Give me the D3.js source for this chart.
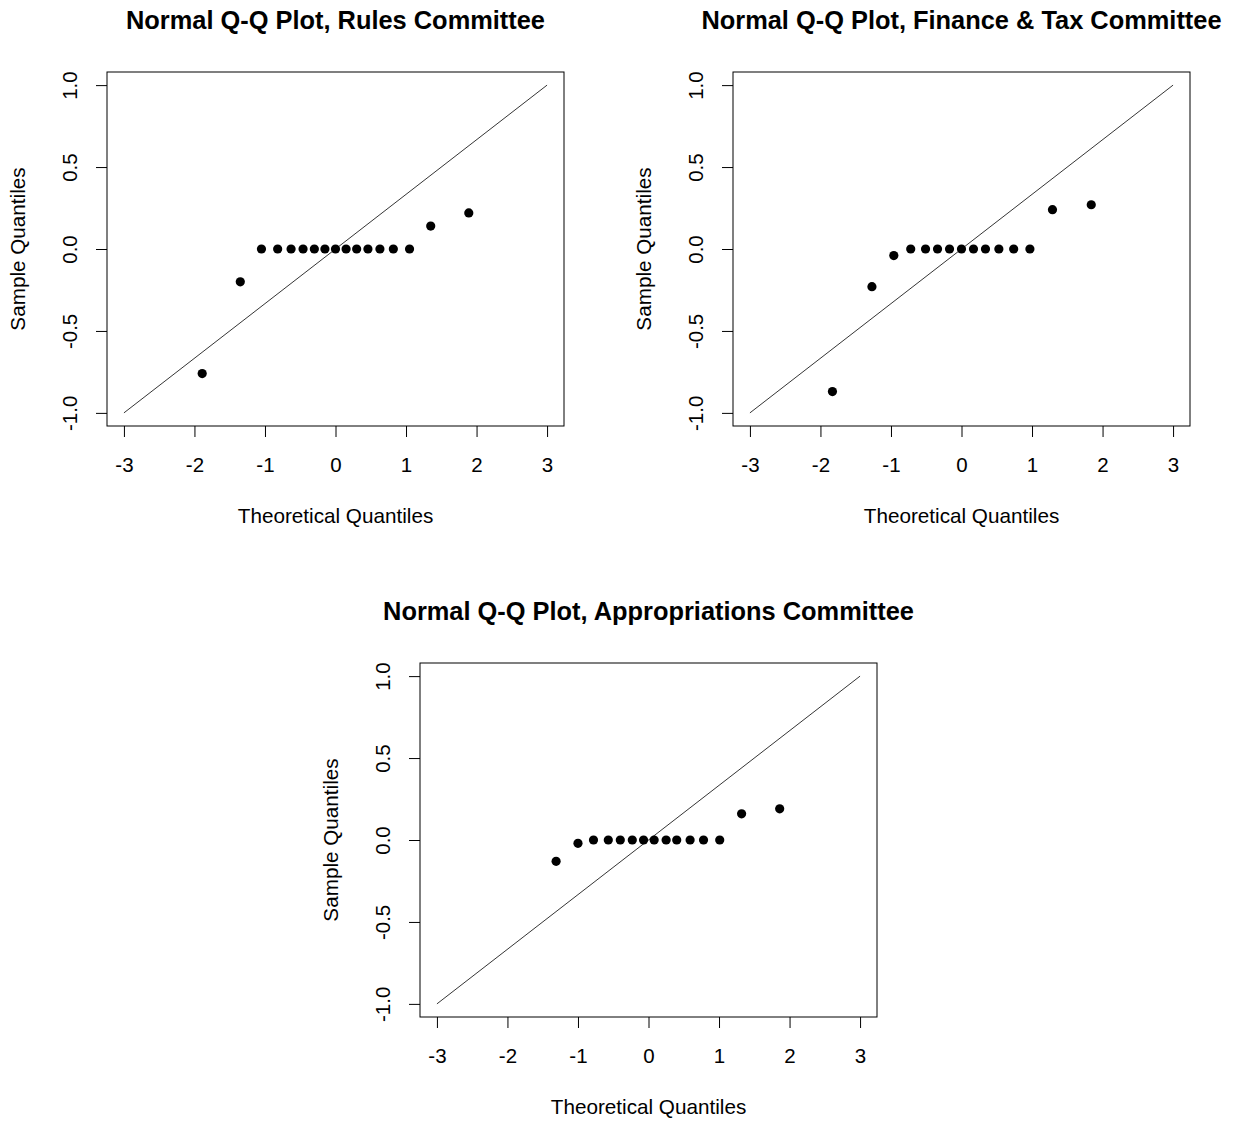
<!DOCTYPE html>
<html>
<head>
<meta charset="utf-8">
<script src="https://cdn.jsdelivr.net/npm/d3@7"></script>
<style>
  html, body { margin: 0; padding: 0; background: #fff; }
  svg { display: block; font-family: 'Liberation Sans', Arial, sans-serif; }
</style>
</head>
<body>
<div id="chart"></div>
<script>
const WIDTH = 1237;
const HEIGHT = 1122;

// tick labels shared by all three panels
const xTicks = [-3, -2, -1, 0, 1, 2, 3];
const yTicks = [-1.0, -0.5, 0.0, 0.5, 1.0];

// reference line end points
const lineX = [-3, 3];
const lineY = [-1, 1];

// Rules Committee
const rulesTheo = [-1.89, -1.35, -1.05, -0.82, -0.63, -0.46, -0.30, -0.15, 0, 0.15, 0.30, 0.46, 0.63, 0.82, 1.05, 1.35, 1.89];
const rulesSample = [-0.76, -0.20, 0, 0, 0, 0, 0, 0, 0, 0, 0, 0, 0, 0, 0, 0.14, 0.22];

// Finance & Tax Committee
const financeTheo = [-1.83, -1.27, -0.96, -0.72, -0.51, -0.34, -0.17, 0, 0.17, 0.34, 0.53, 0.74, 0.97, 1.29, 1.84];
const financeSample = [-0.87, -0.23, -0.04, 0, 0, 0, 0, 0, 0, 0, 0, 0, 0, 0.24, 0.27];

// Appropriations Committee
const approTheo = [-1.31, -1.00, -0.78, -0.57, -0.40, -0.23, -0.07, 0.08, 0.25, 0.40, 0.59, 0.78, 1.01, 1.32, 1.86];
const approSample = [-0.13, -0.02, 0, 0, 0, 0, 0, 0, 0, 0, 0, 0, 0, 0.16, 0.19];

const panels = [
  {title: 'Normal Q-Q Plot, Rules Committee', theo: rulesTheo, sample: rulesSample, left: 107, top: 72},
  {title: 'Normal Q-Q Plot, Finance & Tax Committee', theo: financeTheo, sample: financeSample, left: 733, top: 72},
  {title: 'Normal Q-Q Plot, Appropriations Committee', theo: approTheo, sample: approSample, left: 420, top: 663},
];

const BOX_W = 457;
const BOX_H = 354;
const FONT = 'Liberation Sans, Arial, sans-serif';

// R prints a plain hyphen, not d3's unicode minus
const fmtX = d => String(d);
const fmtY = d => d.toFixed(1);

function translate(x, y) {
  return `translate(${x}, ${y})`;
}

const svg = d3.select('#chart').append('svg')
  .attr('width', WIDTH)
  .attr('height', HEIGHT)
  .attr('viewBox', `0 0 ${WIDTH} ${HEIGHT}`);

svg.append('rect')
  .attr('width', WIDTH)
  .attr('height', HEIGHT)
  .attr('fill', '#fff');

function drawPanel(p) {
  const g = svg.append('g').attr('transform', translate(p.left, p.top));

  // R pads the data range by 4% on each side
  const x = d3.scaleLinear().domain([-3.24, 3.24]).range([0, BOX_W]);
  const y = d3.scaleLinear().domain([-1.08, 1.08]).range([BOX_H, 0]);

  // x axis
  const xAxis = g.append('g')
    .attr('transform', translate(0, BOX_H))
    .call(d3.axisBottom(x).tickValues(xTicks).tickSize(11).tickFormat(fmtX));
  xAxis.select('.domain').remove();
  xAxis.selectAll('.tick line').attr('stroke', '#000');
  xAxis.selectAll('.tick text')
    .attr('y', 46)
    .attr('dy', null)
    .attr('fill', '#000')
    .attr('font-size', 20.5)
    .attr('font-family', FONT);

  // y axis, labels turned like R's las = 0
  const yAxis = g.append('g')
    .call(d3.axisLeft(y).tickValues(yTicks).tickSize(11).tickFormat(fmtY));
  yAxis.select('.domain').remove();
  yAxis.selectAll('.tick line').attr('stroke', '#000');
  yAxis.selectAll('.tick text')
    .attr('x', 0)
    .attr('y', 0)
    .attr('dy', null)
    .attr('text-anchor', 'middle')
    .attr('transform', 'translate(-30, 0) rotate(-90)')
    .attr('fill', '#000')
    .attr('font-size', 20.5)
    .attr('font-family', FONT);

  // frame
  g.append('rect')
    .attr('width', BOX_W)
    .attr('height', BOX_H)
    .attr('fill', 'none')
    .attr('stroke', '#000')
    .attr('stroke-width', 1);

  // diagonal reference line
  g.append('line')
    .attr('x1', x(lineX[0]))
    .attr('y1', y(lineY[0]))
    .attr('x2', x(lineX[1]))
    .attr('y2', y(lineY[1]))
    .attr('stroke', '#000')
    .attr('stroke-width', 0.8);

  // sample points
  g.selectAll('.dot')
    .data(p.theo.map((t, i) => [t, p.sample[i]]))
    .enter().append('circle')
    .attr('class', 'dot')
    .attr('cx', d => x(d[0]))
    .attr('cy', d => y(d[1]))
    .attr('r', 4.6)
    .attr('fill', '#000');

  // titles and axis labels
  g.append('text')
    .attr('x', BOX_W / 2)
    .attr('y', -43)
    .attr('text-anchor', 'middle')
    .attr('font-size', 25.4)
    .attr('font-weight', 'bold')
    .text(p.title);

  g.append('text')
    .attr('x', BOX_W / 2)
    .attr('y', BOX_H + 97)
    .attr('text-anchor', 'middle')
    .attr('font-size', 20.7)
    .text('Theoretical Quantiles');

  g.append('text')
    .attr('transform', `${translate(-82.5, BOX_H / 2)} rotate(-90)`)
    .attr('text-anchor', 'middle')
    .attr('font-size', 20.7)
    .text('Sample Quantiles');
}

panels.forEach(drawPanel);
</script>
</body>
</html>
